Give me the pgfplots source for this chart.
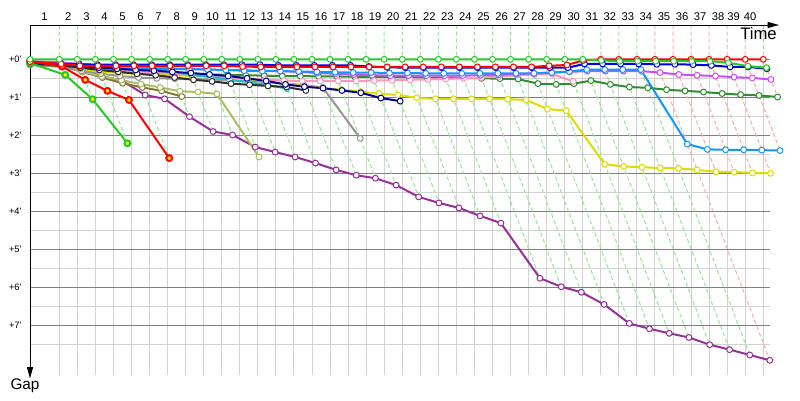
\documentclass[border=0pt]{standalone}
\usepackage{fontspec}
\setmainfont{Liberation Sans}
\usepackage{pgfplots}
\pgfplotsset{compat=1.18}
\usetikzlibrary{arrows.meta}

\definecolor{cGreen}{RGB}{40,200,40}
\definecolor{cRed}{RGB}{255,0,0}
\definecolor{cBlue}{RGB}{0,0,230}
\definecolor{cNavy}{RGB}{0,0,140}
\definecolor{cBlack}{RGB}{45,45,45}
\definecolor{cTeal}{RGB}{30,190,205}
\definecolor{cSky}{RGB}{20,150,255}
\definecolor{cMagenta}{RGB}{200,80,255}
\definecolor{cPink}{RGB}{255,150,190}
\definecolor{cDkGreen}{RGB}{50,140,50}
\definecolor{cYellow}{RGB}{220,220,0}
\definecolor{cGrey}{RGB}{150,150,150}
\definecolor{cLtOlive}{RGB}{170,190,100}
\definecolor{cDkOlive}{RGB}{130,120,60}
\definecolor{cPurple}{RGB}{150,50,150}
\definecolor{lapG}{RGB}{150,230,150}
\definecolor{lapR}{RGB}{255,170,170}
\definecolor{gridD}{RGB}{128,128,128}
\definecolor{gridL}{RGB}{210,210,210}

\tikzset{
  gridl/.style={gridL, line width=0.75pt},
  gridd/.style={gridD, line width=0.75pt},
  lapno/.style={anchor=base, inner sep=0pt, font=\fontsize{8.4}{9}\selectfont},
}

% x: time position (leader lap end + gap), y: gap in minutes
\pgfplotsset{
  table/carx/.style={row sep=\\, y=g,
    x expr={\thisrow{l}<0 ? 30 : 41.25+18.05*\thisrow{l}+14.5*\thisrow{g}}},
  table/lapx/.style={row sep=\\, y=g,
    x expr={41.25+18.05*\thisrow{n}+14.5*\thisrow{d}}},
  car/.style={line width=1.5pt, mark=*, mark size=2.2pt,
    mark options={solid, fill=white, line width=0.75pt}},
}

\begin{document}
\begin{tikzpicture}
\begin{axis}[
  hide axis, clip=false,
  x=0.75pt, y=28.5pt, y dir=reverse,
  xmin=0, xmax=800, ymin=-1.561, ymax=8.966,
  unbounded coords=jump,
]
\path (axis cs:0,-1.561) rectangle (axis cs:800,8.966);

% grid
\pgfplotsinvokeforeach{0.5,1.5,...,7.5}{\draw[gridl] (axis cs:30,#1) -- (axis cs:770,#1);}
\pgfplotsinvokeforeach{1,...,40}{\pgfmathsetmacro\xv{41.25+18.05*#1}%
  \edef\tmp{\noexpand\draw[gridl] (axis cs:\xv,0) -- (axis cs:\xv,8.32);}\tmp}
\pgfplotsinvokeforeach{0,...,7}{\draw[gridd] (axis cs:30,#1) -- (axis cs:770,#1);}

% lap lines
\addplot[lapG, line width=0.75pt, dash pattern=on 3pt off 2pt] table[lapx] {
n d g\\
1 0 -0.903\\ 1 0 0\\ 1 0.41 0.41\\ 1 0 nan\\
2 0 -0.903\\ 2 0 0\\ 2 1.05 1.05\\ 2 0 nan\\
3 0 -0.903\\ 3 0 0\\ 3 2.21 2.21\\ 3 0 nan\\
4 0 -0.903\\ 4 0 0\\ 4 1.07 1.07\\ 4 0 nan\\
5 0 -0.903\\ 5 0 0\\ 5 2.6 2.6\\ 5 0 nan\\
6 0 -0.903\\ 6 0 0\\ 6 1.04 1.04\\ 6 0 nan\\
7 0 -0.903\\ 7 0 0\\ 7 1.51 1.51\\ 7 0 nan\\
8 0 -0.903\\ 8 0 0\\ 8 1.9 1.9\\ 8 0 nan\\
9 0 -0.903\\ 9 0 0\\ 9 1.99 1.99\\ 9 0 nan\\
10 0 -0.903\\ 10 0 0\\ 10 2.57 2.57\\ 10 0 nan\\
11 0 -0.903\\ 11 0 0\\ 11 2.44 2.44\\ 11 0 nan\\
12 0 -0.903\\ 12 0 0\\ 12 2.57 2.57\\ 12 0 nan\\
13 0 -0.903\\ 13 0 0\\ 13 2.73 2.73\\ 13 0 nan\\
14 0 -0.903\\ 14 0 0\\ 14 2.91 2.91\\ 14 0 nan\\
15 0 -0.903\\ 15 0 0\\ 15 3.05 3.05\\ 15 0 nan\\
16 0 -0.903\\ 16 0 0\\ 16 3.13 3.13\\ 16 0 nan\\
17 0 -0.903\\ 17 0 0\\ 17 3.31 3.31\\ 17 0 nan\\
18 0 -0.903\\ 18 0 0\\ 18 3.62 3.62\\ 18 0 nan\\
19 0 -0.903\\ 19 0 0\\ 19 3.78 3.78\\ 19 0 nan\\
20 0 -0.903\\ 20 0 0\\ 20 3.91 3.91\\ 20 0 nan\\
21 0 -0.903\\ 21 0 0\\ 21 4.12 4.12\\ 21 0 nan\\
22 0 -0.903\\ 22 0 0\\ 22 4.31 4.31\\ 22 0 nan\\
23 0 -0.903\\ 23 0 0\\ 23 5.76 5.76\\ 23 0 nan\\
24 0 -0.903\\ 24 0 0\\ 24 5.985 5.985\\ 24 0 nan\\
25 0 -0.903\\ 25 0 0\\ 25 6.13 6.13\\ 25 0 nan\\
26 0 -0.903\\ 26 0 0\\ 26 6.45 6.45\\ 26 0 nan\\
27 0 -0.903\\ 27 0 0\\ 27 6.95 6.95\\ 27 0 nan\\
28 0 -0.903\\ 28 0 0\\ 28 7.09 7.09\\ 28 0 nan\\
29 0 -0.903\\ 29 0 0\\ 29 7.21 7.21\\ 29 0 nan\\
30 0 -0.903\\ 30 0 0\\ 30 7.32 7.32\\ 30 0 nan\\
31 0 -0.903\\ 31 0 0\\ 31 7.51 7.51\\ 31 0 nan\\
32 0 -0.903\\ 32 0 0\\ 32 7.64 7.64\\ 32 0 nan\\
33 0 -0.903\\ 33 0 0\\ 33 7.78 7.78\\
};
\addplot[lapR, line width=0.75pt, dash pattern=on 3pt off 2pt] table[lapx] {
n d g\\
34 0 -0.903\\ 34 0 0\\ 34 7.92 7.92\\ 34 0 nan\\
35 0 -0.903\\ 35 0 0\\ 35 2.96 2.96\\ 35 0 nan\\
36 0 -0.903\\ 36 0 0\\ 36 2.97 2.97\\ 36 0 nan\\
37 0 -0.903\\ 37 0 0\\ 37 2.99 2.99\\ 37 0 nan\\
38 0 -0.903\\ 38 0 0\\ 38 3.0 3.0\\ 38 0 nan\\
39 0 -0.903\\ 39 0 0\\ 39 2.4 2.4\\ 39 0 nan\\
40 0 -0.903\\ 40 0 0\\ 40 0.99 0.99\\
};

% cars
\addplot[car, cPurple] table[carx] {l g\\ -1 0.1\\ 1 0.15\\ 2 0.3\\ 3 0.45\\ 4 0.55\\ 5 0.94\\ 6 1.04\\ 7 1.51\\ 8 1.9\\ 9 1.99\\ 10 2.31\\ 11 2.44\\ 12 2.57\\ 13 2.73\\ 14 2.91\\ 15 3.05\\ 16 3.13\\ 17 3.31\\ 18 3.62\\ 19 3.78\\ 20 3.91\\ 21 4.12\\ 22 4.31\\ 23 5.76\\ 24 5.985\\ 25 6.13\\ 26 6.45\\ 27 6.95\\ 28 7.09\\ 29 7.21\\ 30 7.32\\ 31 7.51\\ 32 7.64\\ 33 7.78\\ 34 7.92\\};
\addplot[car, cDkOlive] table[carx] {l g\\ -1 0.1\\ 1 0.18\\ 2 0.33\\ 3 0.48\\ 4 0.63\\ 5 0.74\\ 6 0.83\\ 7 0.98\\};
\addplot[car, cLtOlive] table[carx] {l g\\ -1 0.12\\ 1 0.2\\ 2 0.32\\ 3 0.45\\ 4 0.55\\ 5 0.65\\ 6 0.74\\ 7 0.84\\ 8 0.86\\ 9 0.91\\ 10 2.57\\};
\addplot[car, cGrey] table[carx] {l g\\ -1 0.15\\ 1 0.2\\ 2 0.3\\ 3 0.38\\ 4 0.44\\ 5 0.48\\ 6 0.5\\ 7 0.51\\ 8 0.52\\ 9 0.53\\ 10 0.55\\ 11 0.57\\ 12 0.6\\ 13 0.64\\ 14 0.68\\ 15 0.74\\ 16 2.08\\};
\addplot[car, cYellow] table[carx] {l g\\ -1 0.12\\ 1 0.15\\ 2 0.25\\ 3 0.32\\ 4 0.36\\ 5 0.38\\ 6 0.4\\ 7 0.42\\ 8 0.44\\ 9 0.46\\ 10 0.48\\ 11 0.52\\ 12 0.58\\ 13 0.64\\ 14 0.7\\ 15 0.76\\ 16 0.8\\ 17 0.85\\ 18 0.9\\ 19 0.94\\ 20 1.01\\ 21 1.04\\ 22 1.04\\ 23 1.04\\ 24 1.04\\ 25 1.05\\ 26 1.07\\ 27 1.31\\ 28 1.35\\ 29 2.76\\ 30 2.82\\ 31 2.84\\ 32 2.86\\ 33 2.87\\ 34 2.91\\ 35 2.96\\ 36 2.97\\ 37 2.99\\ 38 3.0\\};
\addplot[car, cDkGreen] table[carx] {l g\\ -1 0.12\\ 1 0.18\\ 2 0.22\\ 3 0.26\\ 4 0.3\\ 5 0.32\\ 6 0.34\\ 7 0.36\\ 8 0.38\\ 9 0.4\\ 10 0.41\\ 11 0.42\\ 12 0.43\\ 13 0.44\\ 14 0.44\\ 15 0.45\\ 16 0.45\\ 17 0.46\\ 18 0.46\\ 19 0.47\\ 20 0.47\\ 21 0.48\\ 22 0.48\\ 23 0.49\\ 24 0.5\\ 25 0.51\\ 26 0.52\\ 27 0.64\\ 28 0.66\\ 29 0.64\\ 30 0.56\\ 31 0.66\\ 32 0.73\\ 33 0.75\\ 34 0.8\\ 35 0.83\\ 36 0.86\\ 37 0.9\\ 38 0.93\\ 39 0.95\\ 40 0.99\\};
\addplot[car, cPink] table[carx] {l g\\ -1 0.1\\ 1 0.15\\ 2 0.2\\ 3 0.25\\ 4 0.28\\ 5 0.32\\ 6 0.35\\ 7 0.38\\ 8 0.42\\ 9 0.45\\ 10 0.48\\ 11 0.5\\ 12 0.53\\ 13 0.56\\ 14 0.57\\ 15 0.57\\ 16 0.57\\ 17 0.57\\ 18 0.56\\ 19 0.55\\ 20 0.54\\ 21 0.53\\ 22 0.52\\ 23 0.5\\ 24 0.48\\ 25 0.45\\ 26 0.42\\ 27 0.4\\ 28 0.39\\ 29 0.58\\};
\addplot[car, cMagenta] table[carx] {l g\\ -1 0.05\\ 1 0.08\\ 2 0.12\\ 3 0.15\\ 4 0.18\\ 5 0.2\\ 6 0.22\\ 7 0.24\\ 8 0.25\\ 9 0.27\\ 10 0.28\\ 11 0.29\\ 12 0.3\\ 13 0.31\\ 14 0.33\\ 15 0.36\\ 16 0.38\\ 17 0.4\\ 18 0.42\\ 19 0.43\\ 20 0.43\\ 21 0.43\\ 22 0.43\\ 23 0.43\\ 24 0.42\\ 25 0.41\\ 26 0.39\\ 27 0.37\\ 28 0.35\\ 29 0.33\\ 30 0.31\\ 31 0.31\\ 32 0.31\\ 33 0.31\\ 34 0.35\\ 35 0.4\\ 36 0.42\\ 37 0.44\\ 38 0.47\\ 39 0.49\\ 40 0.53\\};
\addplot[car, cTeal] table[carx] {l g\\ -1 0.08\\ 1 0.15\\ 2 0.17\\ 3 0.19\\ 4 0.22\\ 5 0.27\\ 6 0.3\\ 7 0.33\\ 8 0.41\\ 9 0.46\\ 10 0.54\\ 11 0.6\\ 12 0.68\\ 13 0.77\\};
\addplot[car, cSky] table[carx] {l g\\ -1 0.1\\ 1 0.15\\ 2 0.2\\ 3 0.22\\ 4 0.24\\ 5 0.25\\ 6 0.25\\ 7 0.26\\ 8 0.26\\ 9 0.27\\ 10 0.28\\ 11 0.3\\ 12 0.31\\ 13 0.31\\ 14 0.32\\ 15 0.33\\ 16 0.34\\ 17 0.35\\ 18 0.35\\ 19 0.36\\ 20 0.36\\ 21 0.37\\ 22 0.37\\ 23 0.37\\ 24 0.37\\ 25 0.37\\ 26 0.37\\ 27 0.37\\ 28 0.35\\ 29 0.32\\ 30 0.27\\ 31 0.27\\ 32 0.27\\ 33 0.27\\ 34 2.23\\ 35 2.37\\ 36 2.38\\ 37 2.38\\ 38 2.39\\ 39 2.4\\};
\addplot[car, cBlack] table[carx] {l g\\ -1 0.12\\ 1 0.15\\ 2 0.22\\ 3 0.28\\ 4 0.33\\ 5 0.38\\ 6 0.42\\ 7 0.48\\ 8 0.54\\ 9 0.58\\ 10 0.64\\ 11 0.67\\ 12 0.7\\ 13 0.73\\ 14 0.82\\};
\addplot[car, cNavy] table[carx] {l g\\ -1 0.1\\ 1 0.13\\ 2 0.18\\ 3 0.22\\ 4 0.25\\ 5 0.28\\ 6 0.3\\ 7 0.33\\ 8 0.36\\ 9 0.4\\ 10 0.44\\ 11 0.5\\ 12 0.57\\ 13 0.66\\ 14 0.72\\ 15 0.76\\ 16 0.82\\ 17 0.88\\ 18 1.02\\ 19 1.1\\};
\addplot[car, cBlue] table[carx] {l g\\ -1 0.08\\ 1 0.12\\ 2 0.13\\ 3 0.14\\ 4 0.14\\ 5 0.14\\ 6 0.14\\ 7 0.14\\ 8 0.14\\ 9 0.14\\ 10 0.14\\ 11 0.14\\ 12 0.14\\ 13 0.16\\ 14 0.16\\ 15 0.16\\ 16 0.16\\ 17 0.16\\ 18 0.19\\ 19 0.21\\ 20 0.22\\ 21 0.22\\ 22 0.22\\ 23 0.22\\ 24 0.22\\ 25 0.22\\ 26 0.22\\ 27 0.22\\ 28 0.22\\ 29 0.22\\ 30 0.12\\ 31 0.12\\ 32 0.12\\ 33 0.12\\ 34 0.13\\ 35 0.13\\ 36 0.14\\ 37 0.16\\ 38 0.2\\ 39 0.2\\ 40 0.25\\};
\addplot[car, cRed, mark options={fill=yellow}] table[carx] {l g\\ -1 0.05\\ 1 0.19\\ 2 0.54\\ 3 0.83\\ 4 1.07\\ 5 2.6\\};
\addplot[car, cGreen, mark options={fill=yellow}] table[carx] {l g\\ -1 0.1\\ 1 0.41\\ 2 1.05\\ 3 2.21\\};
\addplot[car, cRed] table[carx] {l g\\ -1 0.06\\ 1 0.12\\ 2 0.17\\ 3 0.17\\ 4 0.17\\ 5 0.17\\ 6 0.17\\ 7 0.17\\ 8 0.17\\ 9 0.17\\ 10 0.17\\ 11 0.19\\ 12 0.2\\ 13 0.2\\ 14 0.2\\ 15 0.2\\ 16 0.2\\ 17 0.2\\ 18 0.2\\ 19 0.2\\ 20 0.2\\ 21 0.2\\ 22 0.2\\ 23 0.2\\ 24 0.2\\ 25 0.2\\ 26 0.2\\ 27 0.2\\ 28 0.17\\ 29 0.15\\ 30 0.03\\ 31 0\\ 32 0\\ 33 0\\ 34 0\\ 35 0\\ 36 0\\ 37 0\\ 38 0\\ 39 0\\ 40 0\\};
\addplot[car, cGreen] table[carx] {l g\\ -1 0\\ 1 0\\ 2 0\\ 3 0\\ 4 0\\ 5 0\\ 6 0\\ 7 0\\ 8 0\\ 9 0\\ 10 0\\ 11 0\\ 12 0\\ 13 0\\ 14 0\\ 15 0\\ 16 0\\ 17 0\\ 18 0\\ 19 0\\ 20 0\\ 21 0\\ 22 0\\ 23 0\\ 24 0\\ 25 0\\ 26 0\\ 27 0\\ 28 0\\ 29 0\\ 30 0\\ 31 0.03\\ 32 0.05\\ 33 0.05\\ 34 0.05\\ 35 0.05\\ 36 0.05\\ 37 0.05\\ 38 0.09\\ 39 0.18\\ 40 0.22\\};

% axes
\draw[black, line width=0.75pt, -{Triangle[length=8.5pt, width=4.5pt]}] (axis cs:30,-0.903) -- (axis cs:779,-0.903);
\draw[black, line width=0.75pt, -{Triangle[length=8.5pt, width=4.5pt]}] (axis cs:30,-0.903) -- (axis cs:30,8.4);
\node[anchor=base east, inner sep=0pt, font=\fontsize{12.5}{13}\selectfont] at (axis cs:777,-0.51) {Time};
\node[anchor=base, inner sep=0pt, font=\fontsize{11.5}{12}\selectfont] at (axis cs:25,8.676) {Gap};

% gap labels
\pgfplotsinvokeforeach{0,...,7}{\node[anchor=east, inner sep=0pt, font=\fontsize{7}{8}\selectfont] at (axis cs:22,#1) {+#1'};}

% lap labels
\node[lapno] at (axis cs:44.6,-1.016) {1};
\pgfplotsinvokeforeach{2,...,38}{\pgfmathsetmacro\xv{32.225+18.05*#1}%
  \edef\tmp{\noexpand\node[lapno] at (axis cs:\xv,-1.016) {#1};}\tmp}
\node[lapno] at (axis cs:733.5,-1.016) {39};
\node[lapno] at (axis cs:750,-1.016) {40};
\end{axis}
\end{tikzpicture}
\end{document}
